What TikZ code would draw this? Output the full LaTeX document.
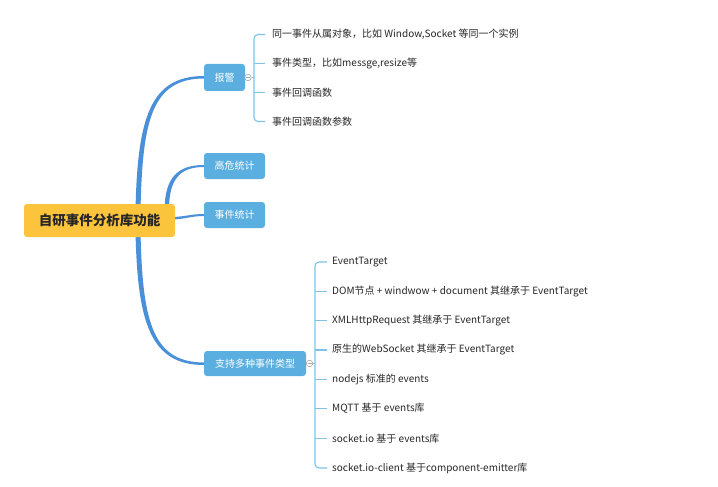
\documentclass[tikz,border=0pt]{standalone}
\usepackage{fontspec}
\setmainfont{Noto Sans CJK SC}
\definecolor{curveblue}{HTML}{4A90D9}
\definecolor{boxblue}{HTML}{5AAFE0}
\definecolor{brkblue}{HTML}{7CC3EA}
\definecolor{rootyel}{HTML}{FBC43C}
\definecolor{txt}{HTML}{262626}
\tikzset{
  topic/.style={fill=boxblue, rounded corners=3pt, text=white, font=\fontsize{10}{12}\selectfont, inner sep=0pt},
  rootbox/.style={fill=rootyel, rounded corners=3pt, text=txt, font=\fontsize{13.5}{16}\selectfont\bfseries, inner sep=0pt, minimum width=151pt, minimum height=33pt},
  item/.style={anchor=west, inner sep=0pt, text=txt, font=\fontsize{10}{12}\selectfont},
  brk/.style={draw=brkblue, line width=1.1pt},
  fold/.style={draw=gray!70, fill=white, line width=0.6pt, circle, inner sep=0pt, minimum size=6.5pt},
  foldbar/.style={draw=gray!70, line width=0.6pt}
}
\begin{document}
\begin{tikzpicture}[x=1pt,y=-1pt]
\useasboundingbox (0,0) rectangle (718,487);
% tapered branches
\fill[curveblue] (135.5,210) .. controls (137.5,118) and (150,76) .. (204,76)
  -- (204,78.5) .. controls (151,78.5) and (142.5,122) .. (140.5,210) -- cycle;
\fill[curveblue] (164.5,210) .. controls (165,178) and (177,165) .. (204,165)
  -- (204,167) .. controls (179,167) and (169,180) .. (169,210) -- cycle;
\fill[curveblue] (170,217) .. controls (185,217) and (190,214) .. (204,214)
  -- (204,216) .. controls (190,216) and (185,219.5) .. (170,219.5) -- cycle;
\fill[curveblue] (135.5,232) .. controls (137.5,322) and (150,365) .. (204,365)
  -- (204,362.5) .. controls (151,362.5) and (142.5,318) .. (140.5,232) -- cycle;

\node[rootbox] (root) at (99.5,220.5) {自研事件分析库功能};
\node[topic, minimum width=41pt, minimum height=27pt] (alarm) at (224.5,77.5) {报警};
\node[topic, minimum width=61pt, minimum height=26pt] (risk) at (234.5,166) {高危统计};
\node[topic, minimum width=61pt, minimum height=26pt] (stat) at (234.5,215) {事件统计};
\node[topic, minimum width=102pt, minimum height=25pt] (multi) at (255,363.5) {支持多种事件类型};

\node[fold] (f1) at (248,77.5) {};
\node[fold] (f2) at (309.5,363.5) {};
\draw[foldbar] ([xshift=-2pt]f1.center) -- ([xshift=2pt]f1.center);
\draw[foldbar] ([xshift=-2pt]f2.center) -- ([xshift=2pt]f2.center);

% alarm items
\node[item] (a1) at (272,34.5) {同一事件从属对象，比如 Window,Socket 等同一个实例};
\node[item] (a2) at (272,63.5) {事件类型，比如messge,resize等};
\node[item] (a3) at (272,92.5) {事件回调函数};
\node[item] (a4) at (272,121.5) {事件回调函数参数};

\coordinate (s1) at (254,77.5);
\draw[brk] (f1.east) -- (s1);
\draw[brk, rounded corners=4pt] ([xshift=-7pt]a1.west) -| (s1 |- a4.west) -- ([xshift=-7pt]a4.west);
\draw[brk] (s1 |- a2.west) -- ([xshift=-7pt]a2.west);
\draw[brk] (s1 |- a3.west) -- ([xshift=-7pt]a3.west);

% multi items
\node[item] (b1) at (332,262) {EventTarget};
\node[item] (b2) at (332,291.5) {DOM节点 + windwow + document 其继承于 EventTarget};
\node[item] (b3) at (332,320.5) {XMLHttpRequest 其继承于 EventTarget};
\node[item] (b4) at (332,350) {原生的WebSocket 其继承于 EventTarget};
\node[item] (b5) at (332,379.5) {nodejs 标准的 events};
\node[item] (b6) at (332,408.5) {MQTT 基于 events库};
\node[item] (b7) at (332,438.5) {socket.io 基于 events库};
\node[item] (b8) at (332,468) {socket.io-client 基于component-emitter库};

\coordinate (s2) at (315,363.5);
\draw[brk] (f2.east) -- (s2);
\draw[brk, rounded corners=4pt] ([xshift=-5pt]b1.west) -| (s2 |- b8.west) -- ([xshift=-5pt]b8.west);
\foreach \i in {b2,b3,b4,b5,b6,b7}
  \draw[brk] (s2 |- \i.west) -- ([xshift=-5pt]\i.west);
\end{tikzpicture}
\end{document}
